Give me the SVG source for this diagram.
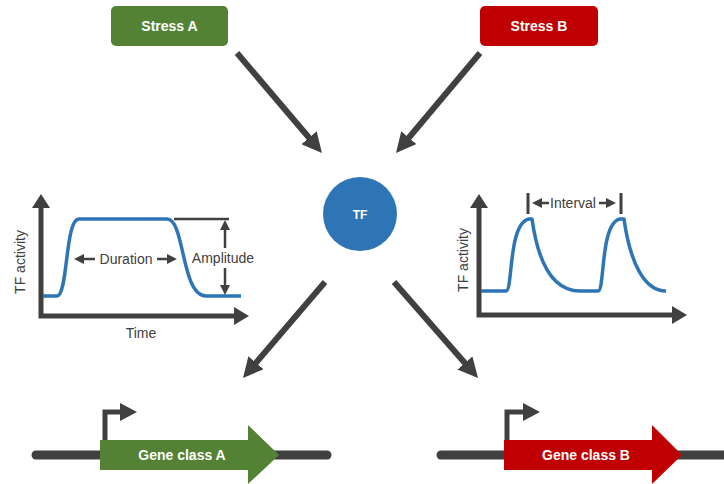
<svg xmlns="http://www.w3.org/2000/svg" width="724" height="484" viewBox="0 0 724 484">
<style>
.lbl{font-family:"Liberation Sans",Arial,sans-serif;font-size:14px;fill:#404040}
.wt{font-family:"Liberation Sans",Arial,sans-serif;font-size:14px;font-weight:bold;fill:#ffffff}
.conn{stroke:#404040;stroke-width:6;fill:none}
.axis{stroke:#404040;stroke-width:5;fill:none}
.thin{stroke:#404040;stroke-width:2.5;fill:none}
.curve{stroke:#2E75B6;stroke-width:3.5;fill:none;stroke-linejoin:round}
.dna{stroke:#404040;stroke-width:9;stroke-linecap:round}
.dk{fill:#404040}
</style>
<defs>
<marker id="ah" markerUnits="userSpaceOnUse" markerWidth="20" markerHeight="20" refX="4" refY="10" orient="auto" viewBox="0 0 20 20">
<path d="M0,0 L20,10 L0,20 z" fill="#404040"/>
</marker>
<marker id="sh" markerUnits="userSpaceOnUse" markerWidth="10" markerHeight="10" refX="2" refY="5" orient="auto" viewBox="0 0 10 10">
<path d="M0,0 L10,5 L0,10 z" fill="#404040"/>
</marker>
</defs>
<rect width="724" height="484" fill="#ffffff"/>

<g id="connectors">
<line class="conn" x1="237" y1="53" x2="311.6" y2="140.8" marker-end="url(#ah)"/>
<line class="conn" x1="480" y1="53" x2="406.3" y2="140.7" marker-end="url(#ah)"/>
<line class="conn" x1="325" y1="282" x2="253.4" y2="365.8" marker-end="url(#ah)"/>
<line class="conn" x1="394" y1="282" x2="467.5" y2="366" marker-end="url(#ah)"/>
</g>

<g id="stressA">
<rect x="111" y="6" width="117" height="40" rx="5" fill="#548235"/>
<text class="wt" x="169.5" y="31" text-anchor="middle">Stress A</text>
</g>
<g id="stressB">
<rect x="480" y="6" width="118" height="40" rx="5" fill="#C00000"/>
<text class="wt" x="539" y="31" text-anchor="middle">Stress B</text>
</g>

<g id="tf">
<circle cx="360" cy="214" r="37" fill="#2E75B6"/>
<text class="wt" x="360" y="219" text-anchor="middle" font-size="12" style="font-size:12px">TF</text>
</g>

<g id="chartDuration">
<path class="axis" d="M41,206 V316 H236"/>
<polygon class="dk" points="41,194 32,208 50,208"/>
<polygon class="dk" points="249,316 234,307 234,325"/>
<path class="curve" d="M43,296 H57 C68,296 65,219 79,219 H167 C185,219 181,296 206,296 H241"/>
<line x1="174" y1="219" x2="229" y2="219" stroke="#404040" stroke-width="2.5"/>
<line class="thin" x1="225" y1="248" x2="225" y2="228" marker-end="url(#sh)"/>
<line class="thin" x1="225" y1="268" x2="225" y2="287" marker-end="url(#sh)"/>
<text class="lbl" x="223" y="263" text-anchor="middle">Amplitude</text>
<line class="thin" x1="95" y1="259" x2="82" y2="259" marker-end="url(#sh)"/>
<line class="thin" x1="157" y1="259" x2="169" y2="259" marker-end="url(#sh)"/>
<text class="lbl" x="126" y="264" text-anchor="middle">Duration</text>
<text class="lbl" x="141" y="338" text-anchor="middle">Time</text>
<text class="lbl" transform="translate(25,262) rotate(-90)" text-anchor="middle">TF activity</text>
</g>

<g id="chartInterval">
<path class="axis" d="M479,206 V315 H673"/>
<polygon class="dk" points="479,194 470,208 488,208"/>
<polygon class="dk" points="687,315 672,306 672,324"/>
<path class="curve" d="M481,291 H506 C513,291 508,223 529,219 L532,219 C538,262 552,291 580,291 H598 C605,291 600,223 620,219 L624,219 C630,262 644,291 666,291"/>
<line x1="528" y1="193" x2="528" y2="214" stroke="#404040" stroke-width="3"/>
<line x1="621" y1="193" x2="621" y2="214" stroke="#404040" stroke-width="3"/>
<line class="thin" x1="549" y1="203" x2="540" y2="203" marker-end="url(#sh)"/>
<line class="thin" x1="599" y1="203" x2="608" y2="203" marker-end="url(#sh)"/>
<text class="lbl" x="573" y="208" text-anchor="middle">Interval</text>
<text class="lbl" transform="translate(468,260) rotate(-90)" text-anchor="middle">TF activity</text>
</g>

<g id="geneA">
<line class="dna" x1="36" y1="455" x2="327" y2="455"/>
<path d="M105,440 V412 H122" stroke="#404040" stroke-width="5" fill="none"/>
<polygon class="dk" points="137,412 120,403 120,421"/>
<polygon fill="#548235" points="100,440 248,440 248,425 279,455 248,484 248,470 100,470"/>
<text class="wt" x="182" y="460" text-anchor="middle">Gene class A</text>
</g>

<g id="geneB">
<line class="dna" x1="441" y1="455" x2="730" y2="455"/>
<path d="M507,440 V412 H524" stroke="#404040" stroke-width="5" fill="none"/>
<polygon class="dk" points="540,412 523,403 523,421"/>
<polygon fill="#C00000" points="504,440 652,440 652,425 682,455 652,484 652,470 504,470"/>
<text class="wt" x="586" y="460" text-anchor="middle">Gene class B</text>
</g>
</svg>
